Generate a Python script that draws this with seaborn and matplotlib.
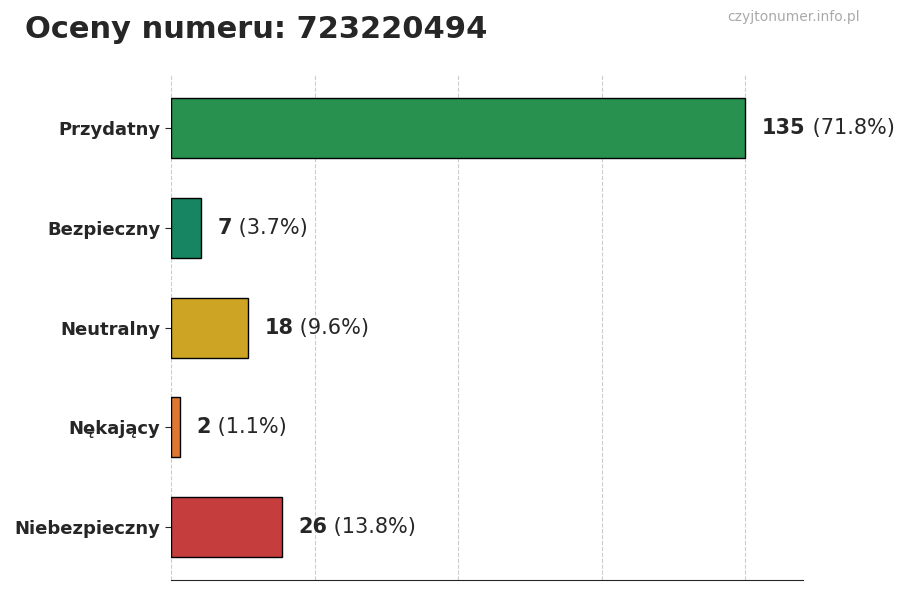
import matplotlib
matplotlib.use("Agg")
import matplotlib.pyplot as plt
import seaborn as sns
import pandas as pd
import numpy as np
from matplotlib.transforms import offset_copy

categories = ["Przydatny", "Bezpieczny", "Neutralny", "Nękający", "Niebezpieczny"]
counts = [135, 7, 18, 2, 26]
percents = ["71.8%", "3.7%", "9.6%", "1.1%", "13.8%"]
colors = ["#16a34a", "#059669", "#eab308", "#f97316", "#dc2626"]

df = pd.DataFrame({"Category": categories, "Count": counts})

sns.set_style("white")
plt.rcParams['font.family'] = ['DejaVu Sans']

fig = plt.figure(figsize=(9, 6), dpi=100)
ax = fig.add_axes([0.19, 0.033, 0.702, 0.842])
sns.barplot(data=df, y="Category", x="Count", hue="Category", palette=colors,
            legend=False, orient="h", width=0.6, edgecolor="black", linewidth=1, ax=ax)

ax.set_xlim(0, max(counts) * 1.1)
ax.set_ylim(4.53, -0.53)
ax.set_xticks(np.linspace(0, max(counts), 5))
ax.set_xticklabels([])
ax.tick_params(axis="x", length=5, color="black")
ax.tick_params(axis="y", length=4, left=True, labelsize=13)
for lbl in ax.get_yticklabels():
    lbl.set_fontweight("bold")
ax.grid(axis="x", linestyle="--", color="#cccccc", linewidth=0.8)
ax.set_axisbelow(True)
for s in ["top", "right", "left"]:
    ax.spines[s].set_visible(False)
ax.set_xlabel("")
ax.set_ylabel("")

fig.canvas.draw()
r = fig.canvas.get_renderer()
for i, (v, p) in enumerate(zip(counts, percents)):
    t = ax.text(v, i, f"{v}", va="center", ha="left", fontsize=15, fontweight="bold",
                transform=offset_copy(ax.transData, fig=fig, x=12, y=0, units="points"))
    w = t.get_window_extent(renderer=r).width * 72 / fig.dpi
    ax.text(v, i, f" ({p})", va="center", ha="left", fontsize=15,
            transform=offset_copy(ax.transData, fig=fig, x=12 + w, y=0, units="points"))

fig.text(25 / 900, 1 - 30 / 600, "Oceny numeru: 723220494", fontsize=22, fontweight="bold",
         va="center", ha="left")
fig.text(860 / 900, 1 - 17 / 600, "czyjtonumer.info.pl", fontsize=10, color="#aaaaaa",
         va="center", ha="right")

fig.savefig("out.png", dpi=100)
